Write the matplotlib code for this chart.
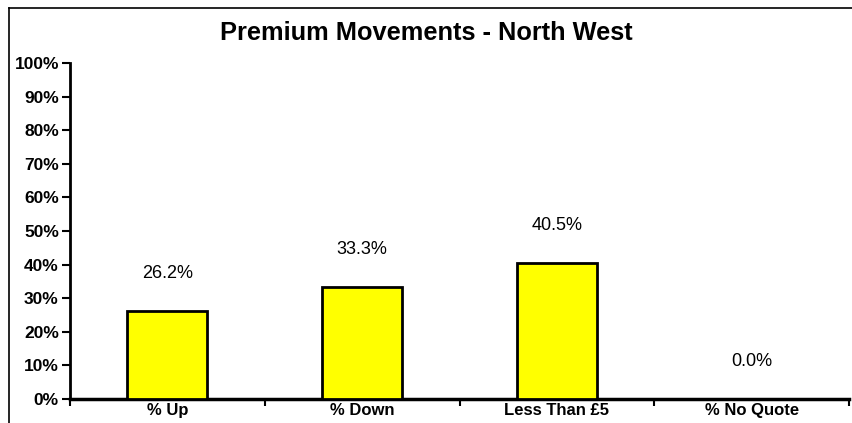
import matplotlib
matplotlib.use("Agg")
import matplotlib.pyplot as plt
from matplotlib.lines import Line2D
from matplotlib.ticker import FixedLocator, PercentFormatter

plt.rcParams['font.family'] = ['Liberation Sans', 'DejaVu Sans']

categories = ["% Up", "% Down", "Less Than £5", "% No Quote"]
values = [26.2, 33.3, 40.5, 0.0]
y_ticks = list(range(0, 101, 10))
title = "Premium Movements - North West"

fig = plt.figure(figsize=(8.52, 4.23), dpi=100)
fig.patch.set_facecolor("white")

# chart-area border (left and top edges visible)
fig.add_artist(Line2D([8.5 / 852, 8.5 / 852], [0, 1 - 8.5 / 423], transform=fig.transFigure,
                      color="black", lw=1.2))
fig.add_artist(Line2D([8.5 / 852, 1], [1 - 8.5 / 423, 1 - 8.5 / 423], transform=fig.transFigure,
                      color="black", lw=1.2))

ax = fig.add_axes([70 / 852, 1 - 399 / 423, (849 - 70) / 852, (399 - 63) / 423])
x = list(range(len(categories)))
bars = ax.bar(x, values, width=0.41, color="#FFFF00", edgecolor="black", linewidth=2, zorder=3)

ax.set_xlim(-0.5, len(categories) - 0.5)
ax.set_ylim(0, 100)
ax.set_yticks(y_ticks)
ax.yaxis.set_major_formatter(PercentFormatter(decimals=0))
ax.set_xticks(x)
ax.set_xticklabels(categories, fontsize=12, fontweight="bold")
ax.tick_params(axis="x", length=0, pad=3)
ax.xaxis.set_minor_locator(FixedLocator([i - 0.5 for i in range(len(categories) + 1)]))
ax.tick_params(axis="x", which="minor", length=5, width=1.5, direction="out")
ax.tick_params(axis="y", length=6, width=1.5, direction="out", labelsize=12.5, pad=2)
for lbl in ax.get_yticklabels():
    lbl.set_fontweight("bold")

for s in ["top", "right"]:
    ax.spines[s].set_visible(False)
ax.spines["left"].set_linewidth(2)
ax.spines["bottom"].set_linewidth(2.5)

for rect, v in zip(bars, values):
    ax.annotate(f"{v:.1f}%", (rect.get_x() + rect.get_width() / 2, v),
                xytext=(0, 27), textcoords="offset points",
                ha="center", va="center", fontsize=13)

fig.text(0.5, 1 - 33 / 423, title, ha="center", va="center",
         fontsize=18.3, fontweight="bold")

fig.savefig("out.png", dpi=100)
